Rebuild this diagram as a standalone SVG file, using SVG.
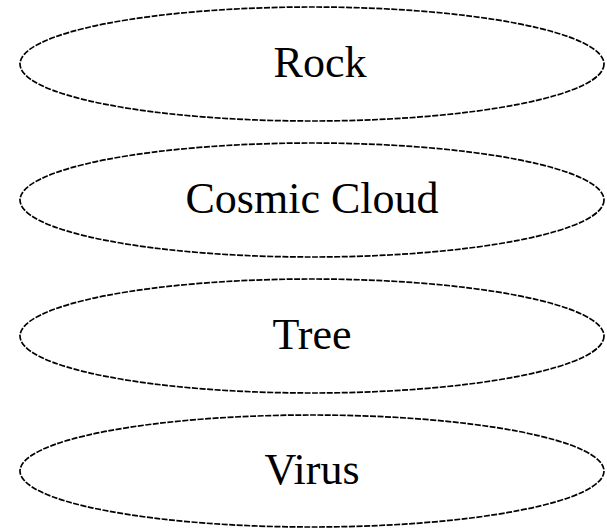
<svg xmlns="http://www.w3.org/2000/svg" width="607" height="528" viewBox="0 0 607 528">
<style>
.n ellipse{fill:none;stroke:#000;stroke-width:1.7;stroke-dasharray:6,1.5}
.n text{font-family:"Liberation Serif","Times New Roman",serif;font-size:44px;text-anchor:middle;fill:#000}
</style>
<rect width="607" height="528" fill="#fff"/>
<g id="connectors"></g>
<g id="rock" class="n"><ellipse cx="312" cy="64" rx="292" ry="57"/><text x="320" y="77">Rock</text></g>
<g id="cosmic-cloud" class="n"><ellipse cx="312" cy="200" rx="292" ry="57"/><text x="312" y="213">Cosmic Cloud</text></g>
<g id="tree" class="n"><ellipse cx="312" cy="336" rx="292" ry="57"/><text x="312" y="349">Tree</text></g>
<g id="virus" class="n"><ellipse cx="312" cy="471" rx="292" ry="56"/><text x="312" y="484">Virus</text></g>
</svg>
